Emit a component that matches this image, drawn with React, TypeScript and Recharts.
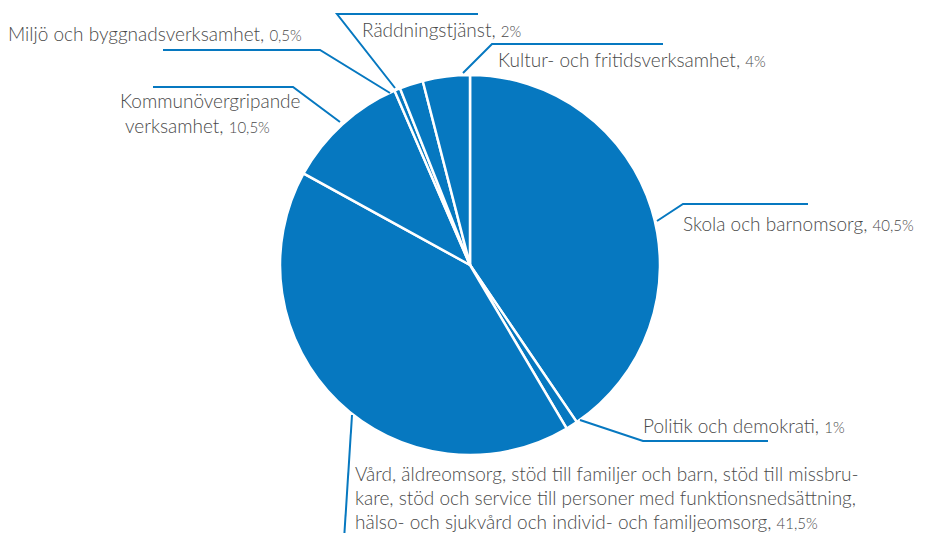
import { PieChart, Pie, Cell } from 'recharts'

const sectors = [
  'Skola och barnomsorg',
  'Politik och demokrati',
  'Vård, äldreomsorg, stöd till familjer och barn, stöd till missbrukare, stöd och service till personer med funktionsnedsättning, hälso- och sjukvård och individ- och familjeomsorg',
  'Kommunövergripande verksamhet',
  'Miljö och byggnadsverksamhet',
  'Räddningstjänst',
  'Kultur- och fritidsverksamhet',
]
const shares = [40.5, 1, 41.5, 10.5, 0.5, 2, 4]
const shareLabels = ['40,5%', '1%', '41,5%', '10,5%', '0,5%', '2%', '4%']

// how each label is broken into lines (last line gets the share)
const labelLines = [
  ['Skola och barnomsorg, '],
  ['Politik och demokrati, '],
  [
    'Vård, äldreomsorg, stöd till familjer och barn, stöd till missbru-',
    'kare, stöd och service till personer med funktionsnedsättning,',
    'hälso- och sjukvård och individ- och familjeomsorg, ',
  ],
  ['Kommunövergripande', 'verksamhet, '],
  ['Miljö och byggnadsverksamhet, '],
  ['Räddningstjänst, '],
  ['Kultur- och fritidsverksamhet, '],
]

// leader line points + text anchor per label
const layout = [
  { line: [[657, 221], [683, 204], [808, 204]], text: [[683, 231]] },
  { line: [[580, 420], [643, 441], [768, 441]], text: [[643, 433]] },
  { line: [[352, 415], [344, 540]], text: [[355, 481], [355, 505], [355, 529]] },
  { line: [[340, 122], [293, 87], [153, 87]], text: [[120, 108], [125, 133]] },
  { line: [[390, 93], [320, 50], [163, 50]], text: [[8, 41]] },
  { line: [[395, 88], [337, 14], [478, 14]], text: [[362, 37]] },
  { line: [[463, 73], [492, 44], [663, 44]], text: [[498, 67]] },
]

const data = sectors.map((name, i) => ({ name, value: shares[i] }))

const BLUE = '#0678c0'
const TEXT = '#4a4a4a'

function renderLabel(props: any) {
  const i = props.index
  const l = layout[i]
  const lines = labelLines[i]
  return (
    <g key={'lbl' + i}>
      <polyline
        points={l.line.map((p) => p.join(',')).join(' ')}
        fill="none"
        stroke={BLUE}
        strokeWidth={2}
      />
      {lines.map((t, j) => (
        <text
          key={j}
          x={l.text[j][0]}
          y={l.text[j][1]}
          fill={TEXT}
          fontFamily="Lato, sans-serif"
          fontWeight={300}
          fontSize={19}
        >
          {t}
          {j === lines.length - 1 && (
            <tspan fontSize={15}>{shareLabels[i]}</tspan>
          )}
        </text>
      ))}
    </g>
  )
}

export default function App() {
  return (
    <div style={{ position: 'absolute', left: 0, top: 0, width: 929, height: 533, background: '#fff' }}>
      <PieChart width={929} height={533} margin={{ top: 0, right: 0, bottom: 0, left: 0 }}>
        <Pie
          data={data}
          dataKey="value"
          cx={470}
          cy={265}
          outerRadius={190}
          startAngle={90}
          endAngle={-270}
          stroke="#fff"
          strokeWidth={2.5}
          label={renderLabel}
          labelLine={false}
          isAnimationActive={false}
        >
          {data.map((d, i) => (
            <Cell key={i} fill={BLUE} />
          ))}
        </Pie>
      </PieChart>
    </div>
  )
}
